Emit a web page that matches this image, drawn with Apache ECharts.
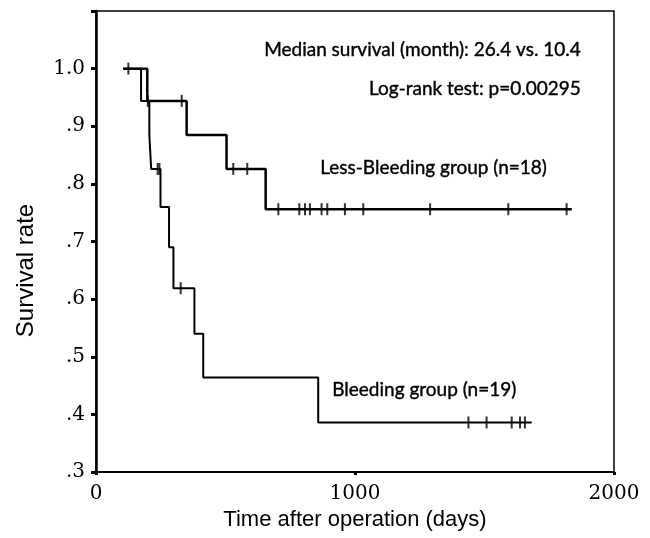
<!DOCTYPE html>
<html>
<head>
<meta charset="utf-8">
<script src="https://cdn.jsdelivr.net/npm/echarts@6/dist/echarts.min.js"></script>
<style>
  html, body { margin: 0; padding: 0; background: #fff; }
  #chart { width: 650px; height: 538px; }
</style>
</head>
<body>
<div id="chart"></div>
<script>
// Kaplan-Meier steps (days, survival)
const lessTimes = [105, 198, 350, 504, 655, 1837];
const lessSurv = [1.0, 0.944, 0.885, 0.826, 0.756, 0.756];
const lessCensored = [331, 530, 584, 704, 785, 807, 826, 871, 893, 961, 1032, 1290, 1592, 1817];

const bleedTimes = [105, 174, 206, 213, 249, 282, 299, 380, 414, 858, 1682];
const bleedSurv = [1.0, 0.944, 0.884, 0.826, 0.760, 0.690, 0.619, 0.540, 0.464, 0.386, 0.386];
const bleedCensored = [125, 200, 238, 245, 327, 1438, 1508, 1605, 1637, 1656];

const yTicks = [0.3, 0.4, 0.5, 0.6, 0.7, 0.8, 0.9, 1.0];

// survival at a given day from a step curve
function survAt(times, surv, t) {
  let s = surv[0];
  for (let i = 0; i < times.length; i++) {
    if (times[i] <= t) s = surv[i];
  }
  return s;
}

const pairs = (xs, ys) => xs.map((x, i) => [x, ys[i]]);
const marks = (cens, times, surv) => cens.map(t => [t, survAt(times, surv, t)]);

const chart = echarts.init(document.getElementById('chart'));
const textStyle = (text) => ({
  text, font: '19px Lato, "Open Sans", sans-serif',
  fill: '#000', stroke: '#000', lineWidth: 0.4,
});

const option = {
  animation: false,
  grid: {
    left: 96, right: 36, top: 11, bottom: 66,
    show: true, borderColor: '#000', borderWidth: 1.5,
  },
  xAxis: {
    type: 'value', min: 0, max: 2000, interval: 1000,
    name: 'Time after operation (days)',
    nameLocation: 'middle', nameGap: 32,
    nameTextStyle: { fontFamily: 'Liberation Sans', fontSize: 22, color: '#000' },
    axisLine: { lineStyle: { color: '#000', width: 2 } },
    axisTick: { length: 3, lineStyle: { color: '#000', width: 3 } },
    axisLabel: {
      fontFamily: 'DejaVu Serif', fontSize: 20, color: '#000', margin: 12,
      formatter: v => String(v),
    },
    splitLine: { show: false },
  },
  yAxis: {
    type: 'value', min: 0.3, max: 1.1, interval: 0.1,
    name: 'Survival rate',
    nameLocation: 'middle', nameGap: 58,
    nameTextStyle: { fontFamily: 'Liberation Sans', fontSize: 24, color: '#000', padding: [0, 58, 0, 0] },
    axisLine: { lineStyle: { color: '#000', width: 2.5 } },
    axisTick: { length: 5, lineStyle: { color: '#000', width: 3 } },
    axisLabel: {
      fontFamily: 'DejaVu Serif', fontSize: 20, color: '#000', margin: 11,
      formatter: v => {
        const r = Math.round(v * 10) / 10;
        if (!yTicks.some(t => Math.abs(t - r) < 1e-6)) return '';
        return r === 1 ? '1.0' : r.toFixed(1).replace(/^0/, '');
      },
    },
    splitLine: { show: false },
  },
  graphic: [
    { type: 'text', right: 69, top: 40, style: textStyle('Median survival (month): 26.4 vs. 10.4') },
    { type: 'text', right: 69, top: 79, style: textStyle('Log-rank test: p=0.00295') },
    { type: 'text', left: 320, top: 158, style: textStyle('Less-Bleeding group (n=18)') },
    { type: 'text', left: 332, top: 380, style: textStyle('Bleeding group (n=19)') },
  ],
  series: [
    {
      name: 'Less-Bleeding', type: 'line', step: 'end', showSymbol: false,
      data: pairs(lessTimes, lessSurv),
      lineStyle: { color: '#000', width: 2.5 },
    },
    {
      name: 'Bleeding', type: 'line', step: 'end', showSymbol: false,
      data: pairs(bleedTimes, bleedSurv),
      lineStyle: { color: '#000', width: 2 },
    },
    {
      type: 'scatter', symbol: 'rect', symbolSize: [2, 12],
      itemStyle: { color: '#000' },
      data: marks(lessCensored, lessTimes, lessSurv).concat(marks(bleedCensored, bleedTimes, bleedSurv)),
    },
  ],
};

chart.setOption(option);
</script>
</body>
</html>
